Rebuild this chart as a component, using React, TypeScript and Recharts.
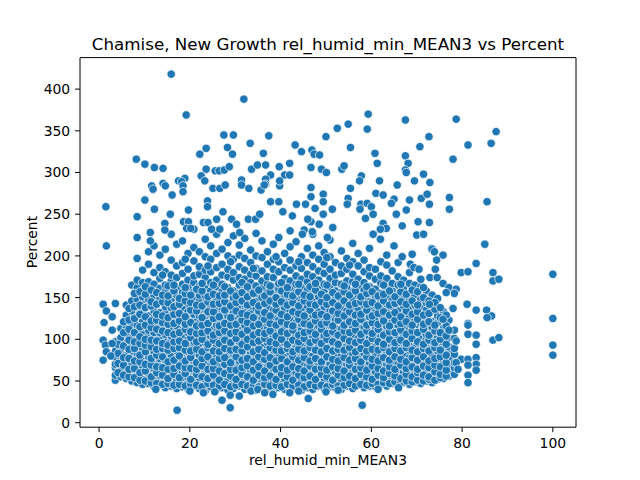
import React from 'react';
import { ScatterChart, Scatter, XAxis, YAxis, ReferenceLine } from 'recharts';

const xTicks = [0, 20, 40, 60, 80, 100];
const yTicks = [0, 50, 100, 150, 200, 250, 300, 350, 400];

// dense core, one column of Percent values per humidity step
const coreX = [
  3.6, 4.8, 6.0, 7.2, 8.4, 9.6, 10.9, 12.1, 13.4, 14.6, 15.9, 17.1, 18.4, 19.6, 20.9, 22.1,
  23.4, 24.6, 25.9, 27.1, 28.4, 29.6, 30.9, 32.1, 33.4, 34.6, 35.9, 37.1, 38.4, 39.6, 40.9,
  42.1, 43.4, 44.6, 45.9, 47.1, 48.4, 49.6, 50.9, 52.1, 53.4, 54.6, 55.9, 57.1, 58.4, 59.6,
  60.9, 62.1, 63.4, 64.6, 65.9, 67.1, 68.4, 69.6, 70.9, 72.1, 73.4, 74.6, 75.9, 77.1, 78.3,
];
const coreY: number[][] = [
  [51, 57, 66, 70, 79, 86, 97],
  [55, 62, 66, 75, 84, 89, 102, 113],
  [53, 59, 69, 73, 80, 91, 95, 107, 114, 129, 141],
  [50, 56, 63, 72, 77, 86, 95, 101, 112, 119, 134, 146, 165],
  [48, 57, 61, 70, 78, 83, 94, 99, 107, 117, 127, 139, 148, 162, 171, 197],
  [46, 52, 62, 68, 74, 84, 89, 98, 107, 115, 121, 134, 143, 151, 168, 183],
  [47, 51, 59, 65, 74, 79, 90, 95, 104, 111, 123, 128, 141, 148, 160, 169, 190, 205],
  [43, 50, 56, 65, 70, 80, 85, 94, 103, 108, 119, 126, 134, 147, 153, 166, 180, 212],
  [45, 48, 57, 62, 72, 77, 85, 91, 101, 108, 115, 125, 132, 144, 150, 161, 173, 186, 201],
  [42, 51, 54, 63, 69, 75, 84, 92, 97, 106, 116, 121, 131, 139, 149, 158, 165, 181, 208],
  [44, 47, 55, 61, 68, 76, 81, 89, 98, 104, 113, 122, 128, 138, 148, 154, 170, 177, 195, 226],
  [41, 50, 57, 62, 71, 77, 86, 93, 100, 110, 116, 125, 135, 141, 153, 161, 174, 188, 214],
  [43, 46, 54, 60, 66, 74, 80, 88, 96, 105, 111, 121, 128, 138, 145, 156, 166, 179, 192, 218],
  [40, 48, 55, 63, 68, 77, 85, 91, 100, 108, 117, 124, 133, 143, 150, 162, 171, 184, 203],
  [44, 49, 53, 62, 70, 74, 83, 90, 97, 106, 114, 123, 130, 140, 149, 157, 168, 176, 194, 210, 232],
  [41, 46, 54, 59, 67, 75, 81, 88, 95, 104, 111, 119, 128, 135, 146, 153, 164, 178, 187, 205],
  [38, 45, 51, 61, 66, 72, 82, 87, 96, 103, 112, 118, 127, 136, 143, 152, 161, 174, 183, 199, 220],
  [43, 48, 55, 60, 69, 76, 80, 90, 98, 104, 114, 121, 130, 139, 147, 158, 168, 181, 196, 212],
  [40, 44, 52, 58, 65, 71, 79, 87, 93, 102, 109, 117, 125, 134, 144, 150, 163, 171, 186, 203, 226],
  [42, 47, 55, 63, 67, 76, 84, 91, 99, 106, 113, 123, 131, 138, 149, 157, 166, 177, 190, 208],
  [39, 45, 51, 58, 66, 73, 80, 86, 95, 103, 111, 118, 128, 136, 143, 154, 162, 175, 184, 200, 216],
  [41, 48, 54, 62, 68, 75, 83, 92, 98, 107, 114, 124, 132, 141, 150, 158, 171, 180, 196, 224],
  [44, 47, 53, 59, 67, 74, 82, 88, 97, 105, 112, 120, 130, 137, 146, 155, 165, 174, 187, 201, 213],
  [40, 46, 51, 57, 65, 71, 78, 87, 94, 101, 110, 117, 126, 135, 142, 152, 160, 172, 183, 197, 221],
  [42, 48, 55, 62, 69, 77, 83, 90, 98, 107, 115, 122, 133, 140, 149, 159, 168, 178, 192, 207],
  [39, 45, 53, 58, 66, 72, 81, 88, 95, 103, 112, 119, 128, 137, 146, 155, 164, 176, 185, 200, 227],
  [43, 49, 54, 63, 70, 76, 85, 91, 100, 108, 115, 125, 131, 142, 150, 161, 170, 182, 198, 218],
  [41, 46, 52, 60, 67, 73, 80, 89, 96, 104, 113, 120, 129, 138, 147, 156, 166, 175, 190, 205],
  [38, 44, 51, 57, 65, 74, 79, 87, 94, 103, 110, 118, 127, 135, 145, 153, 163, 174, 184, 196, 214],
  [42, 48, 55, 61, 68, 75, 83, 92, 99, 106, 116, 123, 132, 141, 149, 160, 167, 181, 193, 222],
  [40, 45, 53, 59, 66, 72, 81, 88, 96, 104, 112, 121, 128, 137, 146, 154, 165, 173, 186, 203],
  [43, 48, 54, 62, 69, 77, 84, 91, 100, 108, 115, 124, 134, 142, 151, 161, 170, 183, 195, 211, 230],
  [41, 47, 52, 60, 67, 73, 81, 90, 97, 105, 113, 120, 130, 139, 147, 156, 166, 176, 188, 217],
  [39, 44, 51, 58, 65, 71, 79, 86, 95, 102, 111, 119, 127, 136, 145, 153, 162, 172, 185, 199],
  [42, 48, 55, 61, 68, 76, 82, 90, 98, 107, 114, 122, 131, 140, 148, 159, 169, 178, 192, 209],
  [40, 46, 52, 59, 67, 73, 80, 89, 96, 103, 112, 120, 129, 137, 147, 155, 165, 175, 187, 201, 226],
  [44, 49, 54, 63, 69, 76, 85, 92, 100, 108, 116, 124, 133, 143, 151, 160, 171, 182, 196, 212],
  [41, 47, 53, 60, 66, 74, 81, 88, 97, 104, 113, 121, 131, 139, 148, 157, 166, 179, 190, 204],
  [43, 50, 56, 62, 70, 78, 84, 93, 100, 109, 117, 125, 135, 144, 152, 163, 173, 184, 199, 219],
  [42, 47, 54, 61, 67, 75, 83, 90, 98, 106, 113, 123, 131, 140, 149, 158, 168, 177, 192],
  [40, 46, 52, 59, 65, 73, 81, 88, 96, 105, 112, 121, 129, 138, 148, 156, 166, 179, 188, 206],
  [44, 49, 55, 63, 70, 76, 84, 92, 99, 108, 117, 124, 134, 143, 151, 162, 170, 184, 197],
  [41, 48, 53, 60, 68, 74, 82, 91, 98, 105, 114, 123, 130, 140, 149, 157, 169, 178, 193, 215],
  [45, 50, 57, 63, 71, 77, 86, 93, 101, 110, 117, 126, 136, 144, 153, 164, 172, 188, 203],
  [42, 48, 54, 62, 67, 75, 83, 89, 98, 106, 115, 121, 131, 141, 148, 159, 168, 181, 195],
  [44, 51, 58, 64, 72, 78, 86, 95, 102, 109, 119, 127, 135, 145, 155, 163, 176, 186, 209],
  [43, 49, 55, 61, 69, 77, 83, 91, 100, 107, 114, 124, 132, 141, 151, 160, 172, 184],
  [46, 52, 57, 65, 73, 79, 88, 94, 103, 112, 119, 129, 136, 147, 155, 167, 176, 193],
  [44, 49, 56, 64, 70, 76, 85, 92, 100, 109, 116, 125, 134, 142, 152, 162, 173, 189, 201],
  [47, 54, 59, 66, 74, 81, 87, 97, 104, 112, 121, 128, 139, 147, 158, 167, 182],
  [45, 50, 57, 64, 70, 79, 85, 94, 101, 110, 117, 126, 134, 144, 153, 165, 175, 192],
  [48, 54, 61, 67, 73, 82, 89, 96, 106, 113, 122, 129, 140, 148, 160, 171],
  [46, 52, 58, 66, 72, 78, 87, 95, 102, 111, 118, 127, 136, 146, 155, 167, 180],
  [49, 56, 61, 69, 75, 83, 90, 99, 105, 115, 122, 132, 141, 153, 165],
  [47, 52, 59, 65, 74, 80, 88, 94, 104, 110, 120, 127, 139, 148, 163, 172],
  [50, 57, 62, 70, 76, 84, 91, 100, 106, 116, 124, 135, 144, 158],
  [48, 53, 61, 67, 75, 81, 89, 97, 104, 114, 121, 133, 141, 153],
  [52, 57, 64, 71, 77, 86, 93, 102, 109, 120, 128, 139, 149],
  [53, 60, 66, 74, 80, 89, 96, 106, 113, 125, 133],
  [56, 61, 69, 76, 85, 91, 102, 110, 123],
  [58, 66, 72, 82, 89, 101, 111],
];

// second, offset set of columns that fills the gaps of the core
const midX = [
  4.2, 5.4, 6.6, 7.8, 9.0, 10.2, 11.5, 12.7, 14.0, 15.2, 16.5, 17.7, 19.0, 20.2, 21.5, 22.7,
  24.0, 25.2, 26.5, 27.7, 29.0, 30.2, 31.5, 32.7, 34.0, 35.2, 36.5, 37.7, 39.0, 40.2, 41.5,
  42.7, 44.0, 45.2, 46.5, 47.7, 49.0, 50.2, 51.5, 52.7, 54.0, 55.2, 56.5, 57.7, 59.0, 60.2,
  61.5, 62.7, 64.0, 65.2, 66.5, 67.7, 69.0, 70.2, 71.5, 72.7, 74.0, 75.2, 76.5,
];
const midY: number[][] = [
  [60, 71, 83, 94],
  [57, 69, 78, 92, 108, 121],
  [55, 64, 77, 88, 99, 112, 123, 137],
  [54, 65, 74, 89, 97, 108, 125, 139, 155],
  [51, 60, 73, 81, 95, 103, 115, 130, 141, 157],
  [50, 62, 70, 85, 93, 100, 117, 127, 138, 154, 163],
  [48, 55, 69, 77, 91, 99, 114, 122, 140, 145, 159],
  [47, 60, 67, 81, 88, 98, 112, 123, 130, 142, 156],
  [46, 57, 66, 79, 89, 95, 110, 120, 128, 145, 153, 177],
  [47, 53, 64, 73, 87, 93, 108, 118, 126, 144, 152, 164],
  [45, 58, 65, 75, 89, 97, 106, 119, 130, 139, 158, 165],
  [46, 54, 68, 80, 90, 98, 108, 122, 131, 142, 149],
  [44, 59, 66, 74, 87, 95, 112, 118, 127, 146, 155, 162, 196],
  [46, 52, 65, 78, 86, 102, 109, 120, 135, 144, 153],
  [45, 58, 64, 72, 88, 97, 107, 116, 134, 141, 160],
  [43, 55, 68, 77, 85, 100, 108, 117, 126, 140, 158, 167],
  [47, 53, 64, 79, 90, 94, 110, 119, 133, 145, 151, 188],
  [45, 57, 65, 73, 86, 99, 105, 125, 133, 142, 154, 165],
  [44, 51, 62, 77, 85, 95, 108, 116, 127, 143, 152],
  [46, 59, 70, 78, 89, 99, 110, 119, 135, 145, 153, 163],
  [43, 56, 64, 72, 87, 96, 107, 117, 126, 140, 158, 193],
  [45, 52, 63, 79, 88, 101, 109, 118, 134, 144, 152],
  [46, 58, 66, 75, 86, 94, 106, 123, 131, 146, 156, 168],
  [44, 55, 68, 77, 91, 100, 111, 120, 129, 141, 151, 163],
  [45, 51, 63, 73, 85, 96, 105, 116, 126, 144, 155, 185],
  [43, 57, 67, 79, 88, 98, 108, 118, 134, 140, 159],
  [46, 54, 62, 76, 84, 101, 107, 124, 132, 143, 152],
  [44, 56, 69, 78, 90, 97, 110, 119, 128, 146, 157, 164],
  [45, 52, 64, 74, 87, 95, 104, 117, 135, 142, 150, 199],
  [43, 58, 66, 77, 86, 100, 109, 121, 130, 145, 158, 168],
  [46, 55, 63, 73, 89, 94, 107, 118, 127, 141, 154, 162],
  [44, 51, 67, 79, 85, 99, 111, 116, 133, 144, 152],
  [45, 57, 65, 75, 88, 97, 105, 124, 131, 140, 157, 166, 193],
  [43, 54, 62, 78, 86, 101, 108, 119, 128, 146, 153],
  [46, 56, 68, 74, 90, 96, 110, 117, 135, 143, 151, 163],
  [44, 52, 64, 77, 87, 99, 106, 122, 129, 141, 159, 167],
  [45, 58, 66, 73, 85, 95, 112, 118, 130, 145, 154],
  [43, 55, 63, 79, 89, 100, 107, 120, 127, 142, 150, 165, 198],
  [46, 51, 67, 76, 86, 97, 109, 116, 134, 144, 156],
  [44, 57, 65, 74, 88, 94, 105, 123, 131, 140, 152],
  [45, 54, 62, 78, 87, 101, 110, 117, 128, 146, 157, 164],
  [47, 56, 69, 75, 90, 98, 108, 121, 133, 141, 153, 189],
  [44, 53, 64, 77, 85, 96, 111, 119, 129, 143, 158, 166],
  [46, 58, 66, 73, 89, 99, 106, 124, 130, 145, 151],
  [45, 55, 63, 79, 86, 95, 110, 117, 135, 142, 155, 163],
  [47, 52, 68, 76, 88, 101, 107, 120, 128, 144, 157],
  [46, 57, 65, 74, 87, 97, 112, 118, 131, 140, 152],
  [48, 54, 62, 78, 90, 94, 105, 122, 133, 146, 154, 165],
  [47, 59, 67, 75, 85, 100, 109, 116, 129, 141, 158],
  [49, 56, 64, 79, 89, 96, 108, 123, 132, 143, 151],
  [48, 53, 69, 76, 86, 99, 111, 119, 127, 145, 157, 166],
  [50, 58, 65, 73, 90, 95, 106, 121, 134, 142, 154],
  [49, 55, 67, 78, 87, 101, 110, 117, 130, 146, 159],
  [51, 60, 64, 75, 85, 97, 108, 124, 133, 141, 157],
  [50, 57, 68, 79, 89, 94, 112, 118, 129, 150, 162],
  [52, 55, 66, 74, 86, 99, 105, 121, 131, 146],
  [51, 61, 69, 77, 90, 96, 110, 117, 136, 144],
  [54, 58, 67, 79, 87, 100, 108, 126, 138],
  [56, 63, 72, 81, 94, 104, 116, 129],
];

// sparse points above the core
const upperPoints: [number, number][] = [
  [15.9, 418], [31.9, 388], [19.2, 369], [27.5, 345], [29.6, 345], [37.4, 344], [28.3, 330],
  [23.6, 329], [22.2, 322], [29.4, 322], [33.3, 335], [36.2, 323], [43.2, 333], [44.6, 325],
  [46.9, 327], [47.4, 322], [48.6, 321], [8.2, 316], [10.1, 310], [12.2, 306], [14.1, 305],
  [23.6, 304], [25.6, 302], [26.5, 302], [27.6, 303], [28.7, 307], [33.6, 304], [34.9, 309],
  [36.7, 309], [39.7, 307], [42, 311], [46.7, 306], [37.8, 297], [40.9, 297], [42, 297],
  [36.7, 292], [36.7, 286], [22.5, 296], [23.3, 290], [18.9, 293], [17.5, 290], [18.2, 289],
  [14.1, 287], [14.6, 284], [11.6, 284], [11.9, 280], [18.5, 284], [18.5, 277], [16.1, 273],
  [25.1, 281], [26.6, 281], [23.9, 266], [23.9, 259], [27.8, 285], [31.4, 291], [31.4, 285],
  [33, 281], [35.7, 279], [36.4, 285], [39.8, 284], [39.8, 290], [46.7, 282], [46.7, 271],
  [10.1, 267], [12.2, 256], [15.7, 250], [14.5, 239], [14.5, 231], [8.4, 247], [8.4, 222],
  [11.3, 228], [11.3, 218], [19.7, 255], [18.6, 241], [19.7, 241], [19.3, 233], [20.2, 233],
  [23, 240], [24, 240], [25.9, 244], [24.8, 232], [26.6, 232], [27.3, 253], [29.2, 244],
  [30.3, 238], [31, 228], [32.9, 244], [34.5, 244], [35.4, 250], [37.8, 265], [39.6, 265],
  [40.5, 253], [42.6, 248], [43.5, 262], [46.7, 241], [45.2, 231], [47, 229],
  [59.3, 370], [67.5, 363], [78.7, 364], [87.5, 349], [52.5, 353], [54.9, 358], [59.1, 352],
  [50, 343], [72.7, 343], [70.7, 331], [81.3, 333], [86.4, 335], [78, 316], [55.4, 330],
  [60.8, 323], [61.3, 311], [67.5, 320], [68.1, 311], [67.5, 303], [67.7, 300], [71.5, 298],
  [49, 304], [50.1, 300], [53.5, 304], [54, 308], [57.8, 296], [57.4, 290], [61.8, 290],
  [65.7, 285], [69.5, 290], [72.9, 288], [55.4, 281], [49.4, 274], [49.4, 265], [54.9, 269],
  [54.7, 262], [57.7, 262], [59.1, 263], [60, 259], [61, 275], [62.6, 273], [65, 268],
  [64.4, 263], [68.4, 267], [71, 269], [72.3, 274], [72.8, 262], [77.2, 270], [77.2, 256],
  [85.5, 265], [51.4, 256], [57.5, 256], [58.7, 245], [60.4, 250], [65.5, 250], [67.7, 255],
  [66.8, 236], [70.3, 241], [72.8, 240], [62.6, 239], [63.3, 233], [62, 232], [60.4, 226],
  [62, 220], [70, 225], [71.5, 226], [65, 212], [73.3, 209], [85, 214], [45.5, 262],
  [47.6, 257], [49.4, 250], [46, 244], [48.5, 238], [51.5, 234], [44.8, 226], [50.3, 222],
];

// right-hand tail past the core
const rightTail: [number, number][] = [
  [79.8, 180], [81.3, 181], [83.1, 191], [81.1, 142], [78, 137], [83.1, 135], [85.4, 135],
  [86.5, 128], [85.5, 126], [81.3, 119], [81.3, 117], [81.3, 106], [83.1, 105], [83.1, 94],
  [86.8, 99], [88.1, 102], [79.8, 76], [81.3, 76], [83.1, 78], [83.1, 70], [83.1, 63],
  [81.3, 69], [81.3, 57], [81.3, 48], [78.7, 72], [79.1, 64], [86.8, 180], [86.8, 170],
  [88.1, 172], [75.8, 201], [74.4, 195], [73.4, 208], [73.9, 205], [69, 202], [66.8, 199],
  [68.6, 190], [69.4, 186], [70.5, 184], [72.9, 174], [74.5, 174], [74.1, 184], [75.8, 167],
  [77.1, 162], [78.7, 160], [78.3, 155], [76.5, 156], [72.8, 142], [75.8, 124], [77.1, 111],
  [78.7, 98], [100, 178], [100, 125], [100, 93], [100, 81],
];

const leftEdge: [number, number][] = [
  [1.5, 259], [1.6, 212], [0.9, 142], [3.6, 143], [1.6, 134], [1.1, 120], [2.9, 127],
  [2.9, 111], [0.9, 99], [1.4, 93], [2.9, 95], [0.9, 75], [1.6, 85], [2.6, 80],
];

const lowPoints: [number, number][] = [
  [17.2, 15], [27.1, 27], [28.9, 33], [28.9, 18], [30.9, 32], [38.3, 34], [42, 36],
  [46.1, 29], [58, 21], [33.5, 38], [50, 37], [23, 36], [20, 38], [35, 40],
  [12.5, 40], [25.5, 37], [36.5, 36], [44, 38], [52.7, 39], [61.5, 40], [66, 42],
];

const data = [
  ...coreX.flatMap((x, i) => coreY[i].map(y => ({ x, y }))),
  ...midX.flatMap((x, i) => midY[i].map(y => ({ x, y }))),
  ...[...leftEdge, ...upperPoints, ...rightTail, ...lowPoints].map(([x, y]) => ({ x, y })),
];

const font = 'DejaVu Sans, sans-serif';

const Dot = (props: any) => (
  <circle cx={props.cx} cy={props.cy} r={4.2} fill="#1f77b4" stroke="#ffffff" strokeWidth={0.7} />
);

export default function App() {
  return (
    <div style={{ position: 'fixed', left: 0, top: 0, width: 640, height: 480, background: '#fff', fontFamily: font }}>
      <ScatterChart width={640} height={480} margin={{ top: 57.6, right: 64, bottom: 22.8, left: 30 }}>
        <XAxis
          type="number"
          dataKey="x"
          domain={[-4.2, 105.1]}
          ticks={xTicks}
          allowDataOverflow
          height={30}
          stroke="#000"
          tickSize={4.9}
          tickMargin={6}
          tick={{ fill: '#000', fontSize: 13.9, fontFamily: font }}
        />
        <YAxis
          type="number"
          dataKey="y"
          domain={[-5.4, 437.8]}
          ticks={yTicks}
          allowDataOverflow
          width={50}
          stroke="#000"
          tickSize={4.9}
          tickMargin={4.9}
          tick={{ fill: '#000', fontSize: 13.9, fontFamily: font }}
        />
        <ReferenceLine x={105.1} stroke="#000" />
        <ReferenceLine y={437.8} stroke="#000" />
        <Scatter data={data} shape={Dot} isAnimationActive={false} />
      </ScatterChart>
      <div style={{ position: 'absolute', left: 80, top: 33.7, width: 496, textAlign: 'center', fontSize: 16.7, lineHeight: '20px', color: '#000' }}>
        Chamise, New Growth rel_humid_min_MEAN3 vs Percent
      </div>
      <div style={{ position: 'absolute', left: 80, top: 452, width: 496, textAlign: 'center', fontSize: 13.9, lineHeight: '16px', color: '#000' }}>
        rel_humid_min_MEAN3
      </div>
      <div style={{ position: 'absolute', left: -68.1, top: 234.4, width: 200, height: 16, textAlign: 'center', fontSize: 13.9, lineHeight: '16px', color: '#000', transform: 'rotate(-90deg)' }}>
        Percent
      </div>
    </div>
  );
}
